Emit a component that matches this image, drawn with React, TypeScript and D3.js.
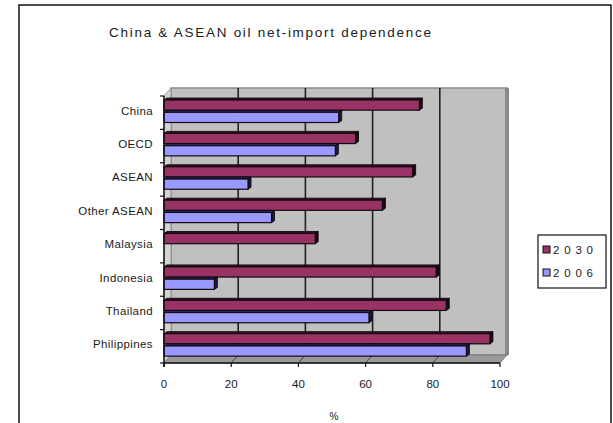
import React from "react";
import * as d3 from "d3";

const categories = ["China", "OECD", "ASEAN", "Other ASEAN", "Malaysia", "Indonesia", "Thailand", "Philippines"];
const series = ["2030", "2006"];
const values2030 = [76, 57, 74, 65, 45, 81, 84, 97];
const values2006 = [52, 51, 25, 32, 0, 15, 61, 90];
const xTicks = [0, 20, 40, 60, 80, 100];
const title = "China & ASEAN oil net-import dependence";
const xLabel = "%";

const colors: Record<string, { front: string; top: string; side: string }> = {
  "2030": { front: "#993366", top: "#3a0f25", side: "#22060f" },
  "2006": { front: "#9999ff", top: "#30306a", side: "#1a1a40" },
};

export default function App() {
  const W = 613, H = 423;
  const x = d3.scaleLinear().domain([0, 100]).range([164, 500]);
  const y = d3.scaleBand<string>().domain(categories).range([96, 363]).paddingInner(0).paddingOuter(0);
  const ys = d3.scaleBand<string>().domain(series).range([2, 26]).paddingInner(0.05);
  const dx = 7, dy = -8;
  const bdx = 3, bdy = -2;
  const font = "Liberation Sans, Arial, sans-serif";
  const x0 = x(0), x1 = x(100), yTop = 96, yBot = 363;
  const data = [values2030, values2006];

  return (
    <svg width={W} height={H} style={{ position: "absolute", left: 0, top: 0 }}>
      <rect x={0} y={0} width={W} height={H} fill="#fff" />
      <rect x={19} y={5} width={592} height={440} fill="#fff" stroke="#111" strokeWidth={1.5} />
      <text x={270} y={37} textAnchor="middle" fontFamily={font} fontSize={13.5} fill="#1a1a1a" textLength={322} lengthAdjust="spacing">{title}</text>

      {/* back wall */}
      <rect x={x0 + dx} y={yTop + dy} width={x1 - x0} height={yBot - yTop} fill="#c0c0c0" stroke="#8a8a8a" strokeWidth={1.5} />
      <rect x={x1 + dx - 2} y={yTop + dy} width={4} height={yBot - yTop} fill="#8a8a8a" />
      {/* left wall */}
      <polygon points={`${x0},${yTop} ${x0 + dx},${yTop + dy} ${x0 + dx},${yBot + dy} ${x0},${yBot}`} fill="#d4d4d4" stroke="#888" strokeWidth={0.8} />
      {/* floor */}
      <polygon points={`${x0},${yBot} ${x1},${yBot} ${x1 + dx},${yBot + dy} ${x0 + dx},${yBot + dy}`} fill="#9a9a9a" stroke="#777" strokeWidth={0.8} />
      {/* gridlines */}
      {xTicks.slice(1, -1).map((t) => (
        <g key={t}>
          <line x1={x(t) + dx} x2={x(t) + dx} y1={yTop + dy} y2={yBot + dy} stroke="#222" strokeWidth={1.6} />
          <line x1={x(t)} x2={x(t) + dx} y1={yBot} y2={yBot + dy} stroke="#444" strokeWidth={1} />
        </g>
      ))}

      {/* bars */}
      {categories.map((c, i) => (
        <g key={c}>
          {series.map((s, j) => {
            const v = data[j][i];
            const by = (y(c) as number) + (ys(s) as number) + 2;
            const bh = ys.bandwidth() - 1.5;
            const xe = x(v);
            const col = colors[s];
            if (v <= 0) return null;
            return (
              <g key={s}>
                <polygon points={`${x0},${by} ${x0 + bdx},${by + bdy} ${xe + bdx},${by + bdy} ${xe},${by}`} fill={col.top} stroke="#000" strokeWidth={0.8} />
                <polygon points={`${xe},${by} ${xe + bdx},${by + bdy} ${xe + bdx},${by + bh + bdy} ${xe},${by + bh}`} fill={col.side} stroke="#000" strokeWidth={0.8} />
                <rect x={x0} y={by} width={xe - x0} height={bh} fill={col.front} stroke="#150810" strokeWidth={1.2} />
              </g>
            );
          })}
        </g>
      ))}

      {/* axes */}
      <line x1={x0} x2={x0} y1={yTop} y2={yBot + 4} stroke="#111" strokeWidth={1.5} />
      {categories.concat(["__end"]).map((c, i) => {
        const yy = i < categories.length ? (y(c) as number) : yBot;
        return <line key={c} x1={x0 - 4} x2={x0} y1={yy} y2={yy} stroke="#111" strokeWidth={1.2} />;
      })}
      <line x1={x0} x2={x1} y1={yBot} y2={yBot} stroke="#111" strokeWidth={1.5} />
      {xTicks.map((t) => (
        <g key={t}>
          <line x1={x(t)} x2={x(t)} y1={yBot} y2={yBot + 4} stroke="#111" strokeWidth={1.2} />
          <text x={x(t)} y={388} textAnchor="middle" fontFamily={font} fontSize={11.5} fill="#1a1a1a">{t}</text>
        </g>
      ))}
      {categories.map((c) => (
        <text key={c} x={153} y={(y(c) as number) + y.bandwidth() / 2 - 2} dy="0.35em" textAnchor="end" fontFamily={font} fontSize={11.5} letterSpacing={0.4} fill="#1a1a1a">{c}</text>
      ))}
      <text x={334} y={420} textAnchor="middle" fontFamily={font} fontSize={10} fill="#222">{xLabel}</text>

      {/* legend */}
      <rect x={538} y={235} width={68} height={53} fill="#fff" stroke="#111" strokeWidth={1.2} />
      {series.map((s, j) => (
        <g key={s}>
          <rect x={543} y={246 + j * 23} width={7} height={7} fill={colors[s].front} stroke="#111" strokeWidth={1} />
          <text x={553} y={249.5 + j * 23} dy="0.35em" fontFamily={font} fontSize={11.5} textLength={40} lengthAdjust="spacing" fill="#1a1a1a">{s}</text>
        </g>
      ))}
    </svg>
  );
}
